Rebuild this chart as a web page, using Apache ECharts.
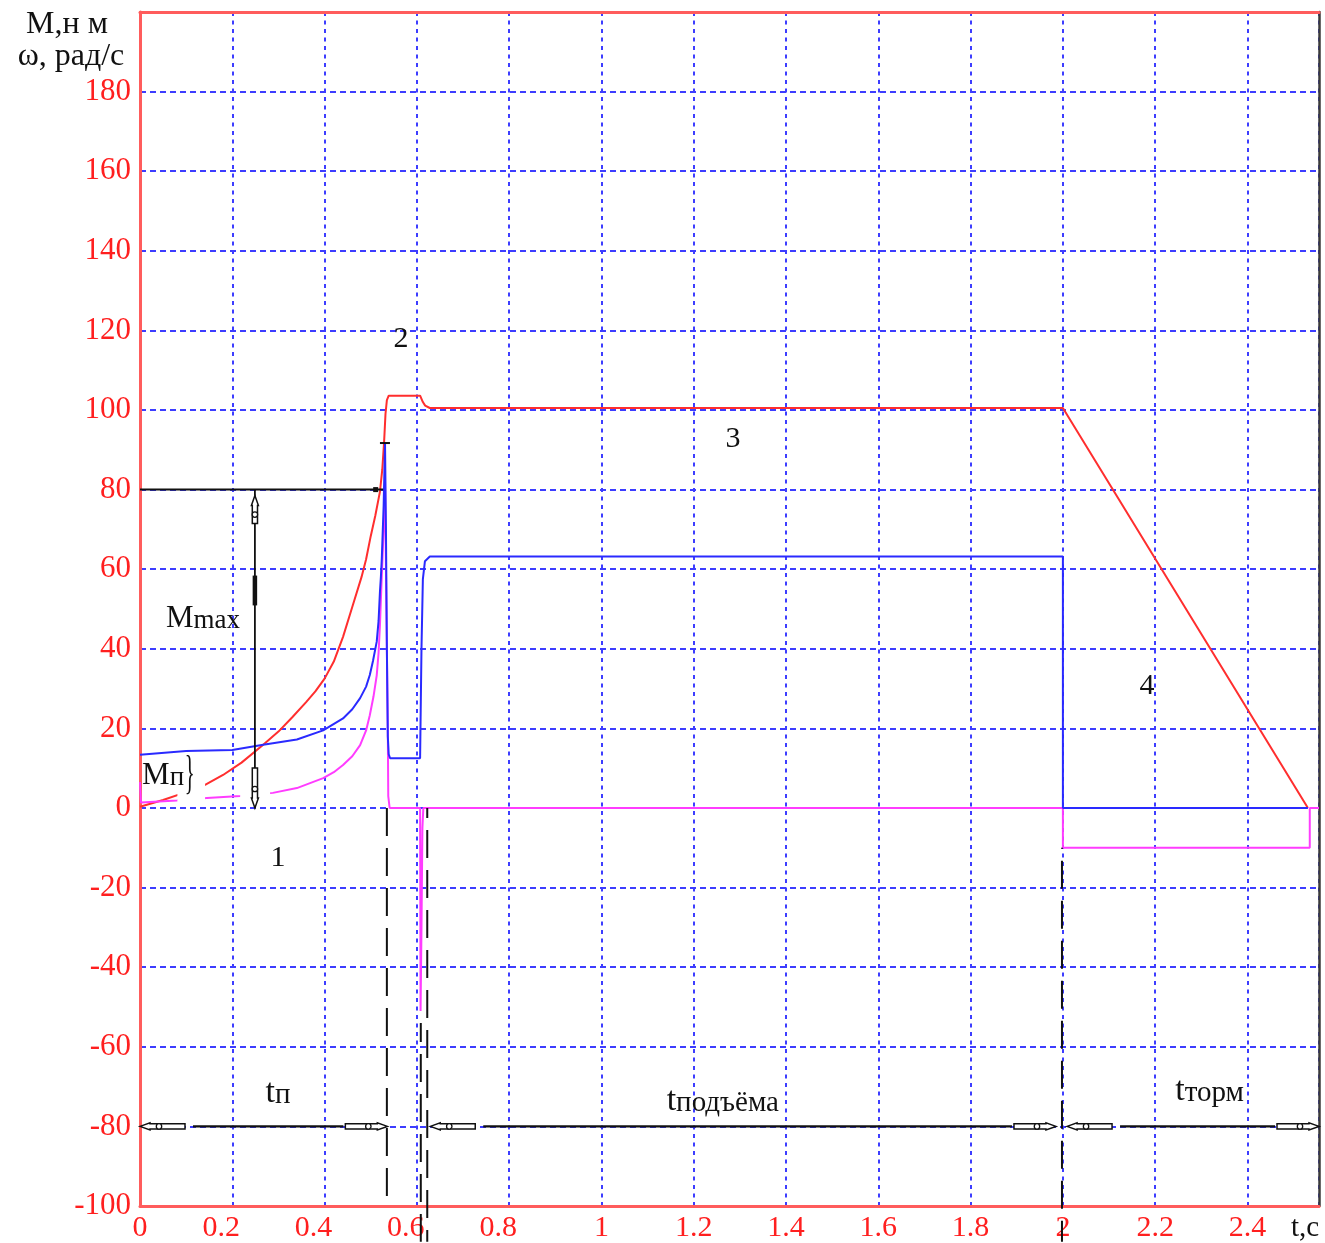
<!DOCTYPE html>
<html>
<head>
<meta charset="utf-8">
<script src="https://cdn.jsdelivr.net/npm/echarts@6/dist/echarts.min.js"></script>
<style>html,body{margin:0;padding:0;background:#fff}#c{width:1325px;height:1243px}</style>
</head>
<body>
<div id="c"></div>
<script>
// ---------- data (t in s, values in N·m / rad/s) ----------
const xMax = 2.555;
const yMin = -100, yMax = 200;

// curve 1-2-3-4 : angular speed ω
const omega = [
  [0,0.3],[0.05,2.0],[0.1,4.0],[0.141,5.8],[0.18,8.3],[0.22,11.4],[0.267,15.9],[0.3,19.2],
  [0.33,22.8],[0.36,26.6],[0.38,29.3],[0.4,32.5],[0.42,36.8],[0.44,43],[0.46,50.5],[0.48,58],
  [0.49,62.5],[0.5,68.3],[0.51,73.5],[0.52,79.5],[0.525,85],[0.529,92],[0.532,99],[0.535,102.5],
  [0.539,103.6],[0.607,103.6],[0.613,102],[0.618,101.1],[0.628,100.5],[2.0,100.5],[2.531,0]
];
// motor torque M
const torque = [
  [0,13.4],[0.1,14.3],[0.2,14.6],[0.267,15.9],[0.34,17.2],[0.397,19.5],[0.44,22.5],[0.46,24.8],
  [0.477,27.6],[0.49,30.5],[0.498,33.4],[0.505,37],[0.513,41.8],[0.517,47],[0.52,54.4],[0.522,58],
  [0.524,62.7],[0.528,76],[0.531,91.5],[0.533,70],[0.535,40],[0.537,18],[0.539,13.5],[0.542,12.5],
  [0.607,12.5],[0.610,40],[0.613,57.5],[0.6175,62],[0.628,63.2],[2.0,63.2],[2.0,0],[2.531,0]
];
// dynamic torque
const dynTorque = [
  [0,6.5],[0.002,1.4],[0.08,1.9],[0.145,2.5],[0.217,3],[0.288,3.8],[0.34,5],[0.397,7.5],[0.42,9],
  [0.44,10.8],[0.46,13],[0.477,15.8],[0.49,19.5],[0.498,23.3],[0.506,28],[0.513,33.3],[0.517,39],
  [0.52,45.9],[0.524,58.4],[0.528,70],[0.531,82],[0.534,50],[0.537,20],[0.538,3],[0.541,0],
  [0.607,0],[0.608,-51],[0.610,-30],[0.612,-5],[0.614,0],[2.0,0],[2.0,-10],[2.535,-10],[2.535,0],[2.555,0]
];

// annotations (data coordinates)
const mmaxLevel = 80;
const mmaxLineEnd = 0.527;
const mmaxArrowT = 0.249;
const peakTick = [0.52, 0.5417, 91.7];
const guideLines = [[0.535,0,-100],[0.6085,-54,-109],[0.6225,0,-109],[1.998,-10,-109]];
const intervalArrows = [[0,0.536,-80],[0.629,1.985,-80],[2.009,2.555,-80]];
const intervalLabels = [['t','п',0.299,-71.7],['t','подъёма',1.263,-73.7],['t','торм',2.318,-71.2]];
const curveNumbers = [['1',0.299,-12.5],['2',0.5655,117.8],['3',1.285,92.7],['4',2.182,30.6]];
const torqueLabels = [['M','max',0.1365,47.6],['M','п',0.05,8.0]];
const braceAt = [0.108, 8];
const maskBoxes = [[0.081,0.141,0.4,11],[0.217,0.282,0.8,6.5]];

// ---------- styles ----------
const SERIF = '"Liberation Serif", "Times New Roman", serif';
const RED = '#ff1f1f';
const FRAME = '#ff5c5c';
const GRIDBLUE = '#3d3dff';
const INK = '#111';

function renderAnnotations(params, api) {
  const P = (t, v) => api.coord([t, v]);
  const k = [];
  const line = (a, b, w, dash, off) => ({type:'line', shape:{x1:a[0],y1:a[1],x2:b[0],y2:b[1]},
    style:{stroke:INK, lineWidth:w, lineDash:dash||null, lineDashOffset:off||0}});
  const arrowHead = (tip, dir, len) => {
    const ux = dir[0], uy = dir[1], vx = -uy, vy = ux;
    const pt = (a, b) => [tip[0]+ux*a+vx*b, tip[1]+uy*a+vy*b];
    return [
      {type:'polygon', shape:{points:[pt(0,0),pt(10,3.5),pt(10,2.6),pt(len,2.6),pt(len,-2.6),pt(10,-2.6),pt(10,-3.5)]},
        style:{fill:'#fff', stroke:INK, lineWidth:1.5}},
      {type:'circle', shape:{cx:pt(19,0)[0], cy:pt(19,0)[1], r:2.7}, style:{fill:'#fff', stroke:INK, lineWidth:1.3}}
    ];
  };
  const txt = (s, p, size, extra) => ({type:'text', x:p[0], y:p[1],
    style:Object.assign({text:s, fill:INK, font:size+'px '+SERIF, align:'center', verticalAlign:'middle',
      textAlign:'center', textVerticalAlign:'middle'}, extra||{})});
  const richTxt = (a, b, p, sa, sb) => txt('{a|'+a+'}{b|'+b+'}', p, sb, {rich:{
    a:{fontSize:sa, fontFamily:SERIF, fill:INK, verticalAlign:'bottom'},
    b:{fontSize:sb, fontFamily:SERIF, fill:INK, verticalAlign:'bottom'}}});

  maskBoxes.forEach(m => {
    const a = P(m[0], m[3]), b = P(m[1], m[2]);
    k.push({type:'rect', shape:{x:a[0], y:a[1], width:b[0]-a[0], height:b[1]-a[1]}, style:{fill:'#fff'}});
  });
  guideLines.forEach((g, i) => k.push(line(P(g[0], g[1]), P(g[0], g[2]), 2, [28, 12], i*9)));
  const h0 = P(0, mmaxLevel), h1 = P(mmaxLineEnd, mmaxLevel);
  k.push(line(h0, h1, 2));
  k.push({type:'rect', shape:{x:h1[0]-10, y:h1[1]-2.5, width:5, height:5}, style:{fill:INK}});
  k.push(line(P(peakTick[0], peakTick[2]), P(peakTick[1], peakTick[2]), 2));
  const vt = P(mmaxArrowT, mmaxLevel), vb = P(mmaxArrowT, 0);
  k.push(line(vt, vb, 1.8));
  k.push(line(P(mmaxArrowT, 58.4), P(mmaxArrowT, 50.9), 4.5));
  k.push(...arrowHead([vt[0], vt[1]+6], [0, 1], 28), ...arrowHead(vb, [0, -1], 40));
  intervalArrows.forEach(r => {
    const a = P(r[0], r[2]), b = P(r[1], r[2]);
    k.push(line([a[0]+53, a[1]], [b[0]-44, b[1]], 2.2));
    k.push(...arrowHead(a, [1, 0], 45), ...arrowHead(b, [-1, 0], 42));
  });
  intervalLabels.forEach(l => k.push(richTxt(l[0], l[1], P(l[2], l[3]), 34, 29)));
  torqueLabels.forEach(l => k.push(richTxt(l[0], l[1], P(l[2], l[3]), 31, 27)));
  curveNumbers.forEach(l => k.push(txt(l[0], P(l[1], l[2]), 30)));
  const bp = P(braceAt[0], braceAt[1]);
  k.push({type:'text', x:bp[0], y:bp[1], scaleX:0.45,
    style:{text:'}', fill:INK, font:'46px '+SERIF, align:'center', verticalAlign:'middle', textAlign:'center', textVerticalAlign:'middle'}});
  return {type:'group', children:k};
}

const chart = echarts.init(document.getElementById('c'), null, {renderer:'canvas'});
const option = {
  animation: false,
  backgroundColor: '#fff',
  grid: {left:140, right:6, top:12, bottom:35, containLabel:false},
  xAxis: [
    {type:'value', min:0, max:xMax, interval:0.2,
      axisLine:{show:true, onZero:false, lineStyle:{color:FRAME, width:3}},
      axisTick:{show:false},
      splitLine:{show:true, lineStyle:{color:GRIDBLUE, width:2, type:[4,4.5]}},
      axisLabel:{color:RED, fontFamily:SERIF, fontSize:30, margin:7, showMaxLabel:false,
        formatter: v => {
          if (v > 2.5) return '';
          const s = String(Math.round(v*10)/10);
          return (v > 0 && v < 0.99) ? '{s|'+s+'}' : s;
        },
        rich:{s:{color:RED, fontFamily:SERIF, fontSize:30, padding:[0,22,0,0]}}}},
    {type:'value', position:'top', min:0, max:xMax,
      axisLine:{show:true, onZero:false, lineStyle:{color:FRAME, width:3}},
      axisTick:{show:false}, axisLabel:{show:false}, splitLine:{show:false}}
  ],
  yAxis: [
    {type:'value', min:yMin, max:yMax, interval:20,
      axisLine:{show:true, onZero:false, lineStyle:{color:FRAME, width:3}},
      axisTick:{show:false},
      splitLine:{show:true, lineStyle:{color:GRIDBLUE, width:2, type:[6,4]}},
      axisLabel:{color:RED, fontFamily:SERIF, fontSize:31, margin:9, showMaxLabel:false,
        formatter: v => v >= 200 ? '' : String(v)}},
    {type:'value', position:'right', min:yMin, max:yMax,
      axisLine:{show:true, onZero:false, lineStyle:{color:'#3a3a3a', width:2.5}},
      axisTick:{show:false}, axisLabel:{show:false}, splitLine:{show:false}}
  ],
  graphic: [
    {type:'text', x:67, y:25, style:{text:'M,н м', fill:INK, font:'32px '+SERIF, align:'center', verticalAlign:'middle', textAlign:'center', textVerticalAlign:'middle'}},
    {type:'text', x:71, y:57, style:{text:'ω, рад/с', fill:INK, font:'32px '+SERIF, align:'center', verticalAlign:'middle', textAlign:'center', textVerticalAlign:'middle'}},
    {type:'text', x:1305, y:1228, style:{text:'t,c', fill:INK, font:'29px '+SERIF, align:'center', verticalAlign:'middle', textAlign:'center', textVerticalAlign:'middle'}}
  ],
  series: [
    {type:'line', name:'ω', data:omega, showSymbol:false, symbol:'none', silent:true, z:3,
      lineStyle:{color:'#ff2e2e', width:2}},
    {type:'line', name:'Mдин', data:dynTorque, showSymbol:false, symbol:'none', silent:true, z:4,
      lineStyle:{color:'#ff3cff', width:2}},
    {type:'line', name:'M', data:torque, showSymbol:false, symbol:'none', silent:true, z:5,
      lineStyle:{color:'#2a2aff', width:2}},
    {type:'custom', renderItem:renderAnnotations, data:[[0,0]], clip:false, silent:true, z:10,
      xAxisIndex:0, yAxisIndex:0}
  ]
};
chart.setOption(option);
</script>
</body>
</html>
